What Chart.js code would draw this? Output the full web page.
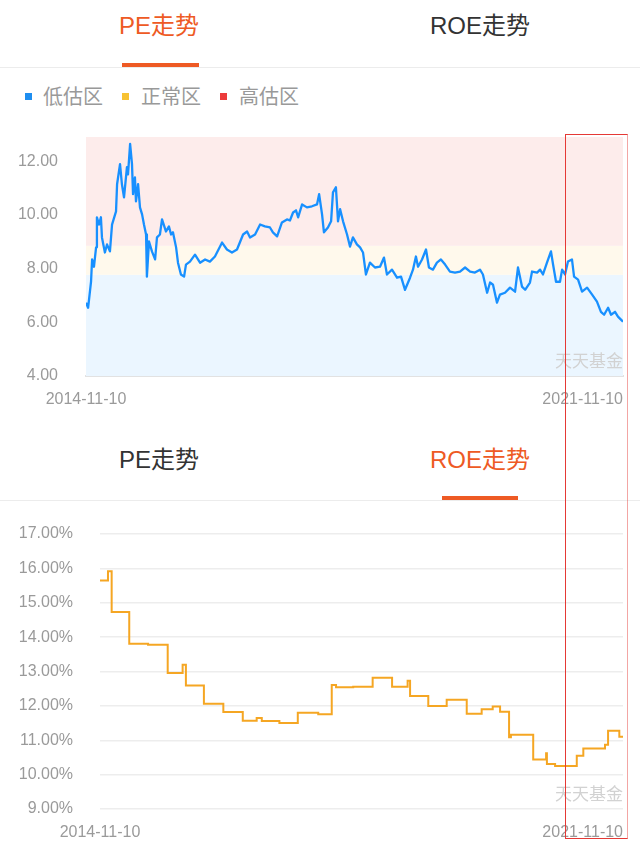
<!DOCTYPE html>
<html>
<head>
<meta charset="utf-8">
<script src="https://cdn.jsdelivr.net/npm/chart.js@4/dist/chart.umd.min.js"></script>
<style>
    body { margin: 0; width: 640px; height: 853px; background: #fff; position: relative; overflow: hidden;
        font-family: "Liberation Sans", "Noto Sans CJK SC", sans-serif; }
    .tab { position: absolute; width: 200px; height: 32px; line-height: 32px; text-align: center; font-size: 24px; color: #333; }
    .tab.active { color: #ee5a24; }
    .bar { position: absolute; height: 4px; background: #ee5a24; }
    .divider { position: absolute; left: 0; width: 640px; height: 1px; background: #ececec; }
    .legend { position: absolute; top: 84px; height: 24px; line-height: 24px; font-size: 20px; color: #999; font-family: "Noto Sans CJK SC", sans-serif; }
    .legend i { position: absolute; width: 7px; height: 7px; top: 9px; }
    canvas { position: absolute; left: 0; }
    .mark { position: absolute; left: 565px; top: 134px; width: 61px; height: 703px;
        border: 1px solid #e53935; border-right-color: rgba(229, 57, 53, 0.45); pointer-events: none; }
</style>
</head>
<body>
<div class="tab active" style="left:59px;top:10px">PE走势</div>
<div class="tab" style="left:380px;top:10px">ROE走势</div>
<div class="bar" style="left:122px;width:77px;top:63px"></div>
<div class="divider" style="top:67px"></div>

<div class="legend" style="left:25px"><i style="left:0;background:#1e8ef0"></i><span style="margin-left:18px">低估区</span></div>
<div class="legend" style="left:122px"><i style="left:0;background:#f7c233"></i><span style="margin-left:19px">正常区</span></div>
<div class="legend" style="left:220px"><i style="left:0;background:#ec3b3b"></i><span style="margin-left:19px">高估区</span></div>

<canvas id="peChart" width="640" height="285" style="top:130px"></canvas>

<div class="tab" style="left:59px;top:444px">PE走势</div>
<div class="tab active" style="left:380px;top:444px">ROE走势</div>
<div class="bar" style="left:442px;width:76px;top:496px"></div>
<div class="divider" style="top:500px"></div>

<canvas id="roeChart" width="640" height="338" style="top:515px"></canvas>

<div class="mark"></div>

<script>
const dateLabels = ['2014-11-10', '2021-11-10'];
const totalDays = 2557;

// PE: days since 2014-11-10, value
const peDays = [0, 10, 24, 29, 38, 48, 52, 62, 71, 76, 90, 100, 114, 124, 143, 148, 162, 171, 181, 195,
    200, 210, 219, 224, 233, 238, 248, 257, 267, 276, 286, 290, 300, 314, 329, 338, 352, 362, 381, 395,
    405, 414, 429, 438, 452, 467, 476, 495, 519, 543, 567, 590, 614, 648, 671, 695, 719, 748, 767, 781,
    805, 829, 852, 876, 890, 910, 933, 957, 971, 986, 1000, 1010, 1029, 1052, 1076, 1100, 1110, 1124, 1133, 1152,
    1167, 1176, 1190, 1200, 1210, 1224, 1243, 1257, 1271, 1290, 1305, 1319, 1333, 1352, 1376, 1400, 1419, 1433, 1457, 1481,
    1500, 1519, 1543, 1557, 1571, 1581, 1600, 1619, 1633, 1652, 1671, 1690, 1710, 1733, 1757, 1781, 1805, 1829, 1852, 1876,
    1890, 1910, 1924, 1938, 1957, 1971, 1995, 2019, 2043, 2057, 2076, 2091, 2114, 2124, 2148, 2162, 2176, 2195, 2214, 2224,
    2238, 2257, 2267, 2281, 2295, 2314, 2324, 2343, 2362, 2386, 2410, 2433, 2452, 2467, 2486, 2500, 2519, 2533, 2557];
const peValues = [6.73, 6.54, 7.51, 8.34, 8.07, 8.79, 9.91, 9.64, 9.91, 9.16, 8.60, 8.90, 8.64, 9.64, 10.13, 11.14, 11.89, 11.14, 10.65, 11.78,
    11.51, 12.64, 11.89, 10.77, 11.40, 10.50, 11.14, 10.28, 10.02, 9.64, 9.27, 7.70, 9.01, 8.64, 8.34, 9.16, 9.27, 9.83, 9.38, 9.57,
    9.27, 9.35, 8.79, 8.22, 7.78, 7.70, 8.15, 8.26, 8.52, 8.22, 8.34, 8.26, 8.45, 8.97, 8.71, 8.60, 8.71, 9.27, 9.38, 9.16,
    9.27, 9.64, 9.57, 9.53, 9.35, 9.20, 9.72, 9.83, 9.79, 10.09, 10.17, 9.91, 10.39, 10.28, 10.32, 10.39, 10.77, 10.02, 9.35, 9.53,
    9.76, 10.84, 11.03, 9.76, 10.21, 9.76, 9.27, 8.82, 9.16, 8.90, 8.79, 8.60, 7.78, 8.22, 8.04, 8.07, 8.41, 7.78, 7.96, 7.66,
    7.70, 7.21, 7.66, 7.96, 8.45, 8.07, 8.34, 8.71, 8.04, 7.96, 8.22, 8.34, 8.15, 7.89, 7.85, 7.89, 8.04, 7.89, 7.85, 7.96,
    7.78, 7.10, 7.48, 7.40, 6.73, 7.03, 7.10, 7.29, 7.14, 8.04, 7.33, 7.21, 7.48, 7.89, 7.85, 7.96, 7.78, 8.22, 8.64, 8.15,
    7.51, 7.51, 7.96, 7.78, 8.26, 8.34, 7.70, 7.59, 7.14, 7.29, 7.03, 6.77, 6.39, 6.28, 6.54, 6.28, 6.39, 6.21, 6.02];
const peTicks = [4, 6, 8, 10, 12];
const peMin = 4;
const peMax = 12.9;
// low / normal boundary, normal / high boundary
const peBands = [7.77, 8.85];

// ROE: step changes, days since 2014-11-10, percent
const roeDays = [0, 39, 57, 143, 235, 331, 404, 420, 508, 603, 698, 766, 791, 877, 967, 1067, 1133, 1154, 1238, 1333,
    1428, 1504, 1516, 1605, 1695, 1793, 1866, 1920, 1956, 2000, 2009, 2118, 2181, 2185, 2225, 2331, 2363, 2469, 2484, 2539, 2557];
const roeValues = [15.65, 15.92, 14.73, 13.81, 13.78, 12.96, 13.2, 12.59, 12.06, 11.82, 11.57, 11.65, 11.56, 11.5, 11.8, 11.76, 12.61, 12.54, 12.56, 12.82,
    12.56, 12.73, 12.29, 12.0, 12.18, 11.77, 11.9, 11.98, 11.83, 11.09, 11.16, 10.44, 10.62, 10.31, 10.25, 10.55, 10.76, 10.87, 11.28, 11.1, 11.1];
const roeTicks = [9, 10, 11, 12, 13, 14, 15, 16, 17];

const tickFont = { family: '"Liberation Sans", "Noto Sans CJK SC", sans-serif', size: 16 };
const tickColor = '#9a9a9a';

const toPoints = (xs, ys) => xs.map((x, i) => ({ x: x, y: ys[i] }));

// fixed axis width, and no extra label padding above/below the plot
const fixY = (width) => (scale) => {
    scale.width = width;
    scale.paddingTop = 0;
    scale.paddingBottom = 0;
};

const bandPlugin = {
    id: 'bands',
    beforeDatasetsDraw(chart) {
        const { ctx, chartArea } = chart;
        const y = chart.scales.y;
        const edges = [peMin, peBands[0], peBands[1], peMax];
        const colors = ['#ebf6ff', '#fff9ec', '#fdeceb'];
        ctx.save();
        for (let i = 0; i < 3; i++) {
            const top = y.getPixelForValue(edges[i + 1]);
            const bottom = y.getPixelForValue(edges[i]);
            ctx.fillStyle = colors[i];
            ctx.fillRect(chartArea.left, top, chartArea.right - chartArea.left, bottom - top);
        }
        ctx.restore();
    }
};

const labelsPlugin = {
    id: 'endLabels',
    afterDraw(chart) {
        const { ctx, chartArea } = chart;
        const x = chart.scales.x;
        ctx.save();
        ctx.font = '16px "Liberation Sans", "Noto Sans CJK SC", sans-serif';
        ctx.fillStyle = tickColor;
        ctx.textBaseline = 'middle';
        ctx.textAlign = 'center';
        ctx.fillText(dateLabels[0], x.getPixelForValue(0), chartArea.bottom + 24);
        ctx.textAlign = 'right';
        ctx.fillText(dateLabels[1], x.getPixelForValue(totalDays), chartArea.bottom + 24);

        ctx.font = '17px "Noto Sans CJK SC", sans-serif';
        ctx.fillStyle = '#d2d2d2';
        ctx.fillText('天天基金', chartArea.right, chartArea.bottom - 15);
        ctx.restore();
    }
};

new Chart(document.getElementById('peChart'), {
    type: 'line',
    data: {
        datasets: [{
            data: toPoints(peDays, peValues),
            borderColor: '#1890ff',
            borderWidth: 2.3,
            pointRadius: 0,
            tension: 0,
            borderJoinStyle: 'round'
        }]
    },
    options: {
        responsive: false,
        animation: false,
        devicePixelRatio: 1,
        layout: { padding: { top: 7, right: 17, left: 0, bottom: 0 } },
        plugins: { legend: { display: false }, tooltip: { enabled: false } },
        scales: {
            x: {
                type: 'linear',
                min: 0,
                max: totalDays,
                ticks: { display: false },
                grid: { display: false },
                border: { display: true, color: '#e2e2e2', width: 2 },
                afterFit: (scale) => { scale.height = 39; }
            },
            y: {
                min: peMin,
                max: peMax,
                afterBuildTicks: (axis) => { axis.ticks = peTicks.map(v => ({ value: v })); },
                afterFit: fixY(86),
                ticks: { padding: 28, color: tickColor, font: tickFont, callback: (v) => v.toFixed(2) },
                grid: { display: false, drawTicks: false },
                border: { display: false }
            }
        }
    },
    plugins: [bandPlugin, labelsPlugin]
});

new Chart(document.getElementById('roeChart'), {
    type: 'line',
    data: {
        datasets: [{
            data: toPoints(roeDays, roeValues),
            borderColor: '#f5a623',
            borderWidth: 2,
            pointRadius: 0,
            // hold each value until the next report
            stepped: 'before'
        }]
    },
    options: {
        responsive: false,
        animation: false,
        devicePixelRatio: 1,
        layout: { padding: { top: 19, right: 17, left: 0, bottom: 0 } },
        plugins: { legend: { display: false }, tooltip: { enabled: false } },
        scales: {
            x: {
                type: 'linear',
                min: 0,
                max: totalDays,
                ticks: { display: false },
                grid: { display: false },
                border: { display: false },
                afterFit: (scale) => { scale.height = 44; }
            },
            y: {
                min: 9,
                max: 17,
                afterBuildTicks: (axis) => { axis.ticks = roeTicks.map(v => ({ value: v })); },
                afterFit: fixY(100),
                ticks: { padding: 27, color: tickColor, font: tickFont, callback: (v) => v.toFixed(2) + '%' },
                grid: { color: '#ededed', lineWidth: 1.5, drawTicks: false },
                border: { display: false }
            }
        }
    },
    plugins: [labelsPlugin]
});
</script>
</body>
</html>
